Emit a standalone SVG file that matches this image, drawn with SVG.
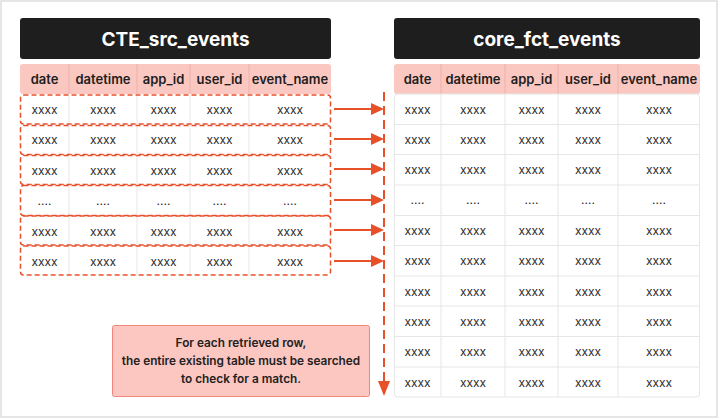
<svg xmlns="http://www.w3.org/2000/svg" width="720" height="419" viewBox="0 0 720 419">
<style>
.title{font-family:Inter,"Liberation Sans",sans-serif;font-weight:700;font-size:19px;fill:#fff;text-anchor:middle}
.hd{font-family:Inter,"Liberation Sans",sans-serif;font-weight:600;font-size:13px;fill:#1e1e1e;text-anchor:middle}
.c{font-family:Inter,"Liberation Sans",sans-serif;font-size:12px;fill:#2a2a2a;text-anchor:middle}
.note{font-family:Inter,"Liberation Sans",sans-serif;font-weight:600;font-size:11.8px;fill:#222;text-anchor:middle}
.bar{fill:#1e1e1e}
.hdr{fill:#fbc7c1}
.grid{stroke:#e6e6e6;stroke-width:1;fill:none}
.hgrid{stroke:#efb0a9;stroke-width:1}
.dash{fill:none;stroke:#e8502a;stroke-width:1.5;stroke-dasharray:5 3}
.arr{stroke:#e8502a;stroke-width:2;fill:none}
.ah{fill:#e8502a}
</style>
<rect x="0" y="0" width="720" height="419" fill="#fff"/>
<rect x="1" y="1" width="716" height="416" fill="none" stroke="#dedede" stroke-width="1.5"/>

<g id="cte_src_events">
  <rect class="bar" x="20" y="18" width="311" height="41" rx="3"/>
  <text class="title" x="175.5" y="45.5">CTE_src_events</text>
  <rect class="hdr" x="20" y="64" width="311" height="30" rx="3"/>
  <g class="hgrid">
    <line x1="69" y1="64" x2="69" y2="94"/><line x1="137" y1="64" x2="137" y2="94"/><line x1="190" y1="64" x2="190" y2="94"/><line x1="249" y1="64" x2="249" y2="94"/>
  </g>
  <text class="hd" x="44.5" y="84">date</text>
  <text class="hd" x="103" y="84">datetime</text>
  <text class="hd" x="163.5" y="84">app_id</text>
  <text class="hd" x="219.5" y="84">user_id</text>
  <text class="hd" x="290" y="84">event_name</text>
  <g class="grid">
    <line x1="69" y1="95" x2="69" y2="276"/><line x1="137" y1="95" x2="137" y2="276"/><line x1="190" y1="95" x2="190" y2="276"/><line x1="249" y1="95" x2="249" y2="276"/>
  </g>
  <g class="dash">
    <rect x="20.5" y="95" width="310" height="29" rx="3"/>
    <rect x="20.5" y="125.5" width="310" height="29" rx="3"/>
    <rect x="20.5" y="155.5" width="310" height="29" rx="3"/>
    <rect x="20.5" y="185.5" width="310" height="30" rx="3"/>
    <rect x="20.5" y="216" width="310" height="29" rx="3"/>
    <rect x="20.5" y="246" width="310" height="29" rx="3"/>
  </g>
  <g>
    <text class="c" x="44.5" y="114">xxxx</text><text class="c" x="103" y="114">xxxx</text><text class="c" x="163.5" y="114">xxxx</text><text class="c" x="219.5" y="114">xxxx</text><text class="c" x="290" y="114">xxxx</text>
    <text class="c" x="44.5" y="144">xxxx</text><text class="c" x="103" y="144">xxxx</text><text class="c" x="163.5" y="144">xxxx</text><text class="c" x="219.5" y="144">xxxx</text><text class="c" x="290" y="144">xxxx</text>
    <text class="c" x="44.5" y="175">xxxx</text><text class="c" x="103" y="175">xxxx</text><text class="c" x="163.5" y="175">xxxx</text><text class="c" x="219.5" y="175">xxxx</text><text class="c" x="290" y="175">xxxx</text>
    <text class="c" x="44.5" y="205">....</text><text class="c" x="103" y="205">....</text><text class="c" x="163.5" y="205">....</text><text class="c" x="219.5" y="205">....</text><text class="c" x="290" y="205">....</text>
    <text class="c" x="44.5" y="236">xxxx</text><text class="c" x="103" y="236">xxxx</text><text class="c" x="163.5" y="236">xxxx</text><text class="c" x="219.5" y="236">xxxx</text><text class="c" x="290" y="236">xxxx</text>
    <text class="c" x="44.5" y="266">xxxx</text><text class="c" x="103" y="266">xxxx</text><text class="c" x="163.5" y="266">xxxx</text><text class="c" x="219.5" y="266">xxxx</text><text class="c" x="290" y="266">xxxx</text>
  </g>
</g>

<g id="core_fct_events">
  <rect class="bar" x="394" y="18" width="306" height="41" rx="3"/>
  <text class="title" x="547" y="45.5">core_fct_events</text>
  <rect class="hdr" x="394" y="64" width="306" height="30" rx="3"/>
  <g class="hgrid">
    <line x1="441" y1="64" x2="441" y2="94"/><line x1="505" y1="64" x2="505" y2="94"/><line x1="558" y1="64" x2="558" y2="94"/><line x1="618" y1="64" x2="618" y2="94"/>
  </g>
  <text class="hd" x="417.5" y="84">date</text>
  <text class="hd" x="473" y="84">datetime</text>
  <text class="hd" x="531.5" y="84">app_id</text>
  <text class="hd" x="588" y="84">user_id</text>
  <text class="hd" x="659" y="84">event_name</text>
  <g class="grid">
    <rect x="394.5" y="94" width="305" height="303" rx="3"/>
    <line x1="441" y1="94" x2="441" y2="397"/><line x1="505" y1="94" x2="505" y2="397"/><line x1="558" y1="94" x2="558" y2="397"/><line x1="618" y1="94" x2="618" y2="397"/>
    <line x1="394" y1="124.5" x2="700" y2="124.5"/><line x1="394" y1="154.5" x2="700" y2="154.5"/><line x1="394" y1="185" x2="700" y2="185"/><line x1="394" y1="215.5" x2="700" y2="215.5"/><line x1="394" y1="245.5" x2="700" y2="245.5"/><line x1="394" y1="276" x2="700" y2="276"/><line x1="394" y1="306" x2="700" y2="306"/><line x1="394" y1="336.5" x2="700" y2="336.5"/><line x1="394" y1="367" x2="700" y2="367"/>
  </g>
  <g>
    <text class="c" x="417.5" y="114">xxxx</text><text class="c" x="473" y="114">xxxx</text><text class="c" x="531.5" y="114">xxxx</text><text class="c" x="588" y="114">xxxx</text><text class="c" x="659" y="114">xxxx</text>
    <text class="c" x="417.5" y="144">xxxx</text><text class="c" x="473" y="144">xxxx</text><text class="c" x="531.5" y="144">xxxx</text><text class="c" x="588" y="144">xxxx</text><text class="c" x="659" y="144">xxxx</text>
    <text class="c" x="417.5" y="174">xxxx</text><text class="c" x="473" y="174">xxxx</text><text class="c" x="531.5" y="174">xxxx</text><text class="c" x="588" y="174">xxxx</text><text class="c" x="659" y="174">xxxx</text>
    <text class="c" x="417.5" y="204">....</text><text class="c" x="473" y="204">....</text><text class="c" x="531.5" y="204">....</text><text class="c" x="588" y="204">....</text><text class="c" x="659" y="204">....</text>
    <text class="c" x="417.5" y="235">xxxx</text><text class="c" x="473" y="235">xxxx</text><text class="c" x="531.5" y="235">xxxx</text><text class="c" x="588" y="235">xxxx</text><text class="c" x="659" y="235">xxxx</text>
    <text class="c" x="417.5" y="265">xxxx</text><text class="c" x="473" y="265">xxxx</text><text class="c" x="531.5" y="265">xxxx</text><text class="c" x="588" y="265">xxxx</text><text class="c" x="659" y="265">xxxx</text>
    <text class="c" x="417.5" y="296">xxxx</text><text class="c" x="473" y="296">xxxx</text><text class="c" x="531.5" y="296">xxxx</text><text class="c" x="588" y="296">xxxx</text><text class="c" x="659" y="296">xxxx</text>
    <text class="c" x="417.5" y="326">xxxx</text><text class="c" x="473" y="326">xxxx</text><text class="c" x="531.5" y="326">xxxx</text><text class="c" x="588" y="326">xxxx</text><text class="c" x="659" y="326">xxxx</text>
    <text class="c" x="417.5" y="356">xxxx</text><text class="c" x="473" y="356">xxxx</text><text class="c" x="531.5" y="356">xxxx</text><text class="c" x="588" y="356">xxxx</text><text class="c" x="659" y="356">xxxx</text>
    <text class="c" x="417.5" y="387">xxxx</text><text class="c" x="473" y="387">xxxx</text><text class="c" x="531.5" y="387">xxxx</text><text class="c" x="588" y="387">xxxx</text><text class="c" x="659" y="387">xxxx</text>
  </g>
</g>

<g id="note">
  <rect x="112.5" y="325.5" width="257" height="71" rx="2" fill="#fcc6c1" stroke="#f0877a" stroke-width="1"/>
  <text class="note" x="241" y="347">For each retrieved row,</text>
  <text class="note" x="241" y="365">the entire existing table must be searched</text>
  <text class="note" x="241" y="383">to check for a match.</text>
</g>

<g id="connectors">
  <line class="arr" x1="384" y1="92" x2="384" y2="382" stroke-dasharray="9 5"/>
  <polygon class="ah" points="378,381 390,381 384,396"/>
  <line class="arr" x1="334" y1="109" x2="373" y2="109"/><polygon class="ah" points="371,103 384,109 371,115"/>
  <line class="arr" x1="334" y1="139" x2="373" y2="139"/><polygon class="ah" points="371,133 384,139 371,145"/>
  <line class="arr" x1="334" y1="169" x2="373" y2="169"/><polygon class="ah" points="371,163 384,169 371,175"/>
  <line class="arr" x1="334" y1="200" x2="373" y2="200"/><polygon class="ah" points="371,194 384,200 371,206"/>
  <line class="arr" x1="334" y1="230" x2="373" y2="230"/><polygon class="ah" points="371,224 384,230 371,236"/>
  <line class="arr" x1="334" y1="261" x2="373" y2="261"/><polygon class="ah" points="371,255 384,261 371,267"/>
</g>
</svg>
